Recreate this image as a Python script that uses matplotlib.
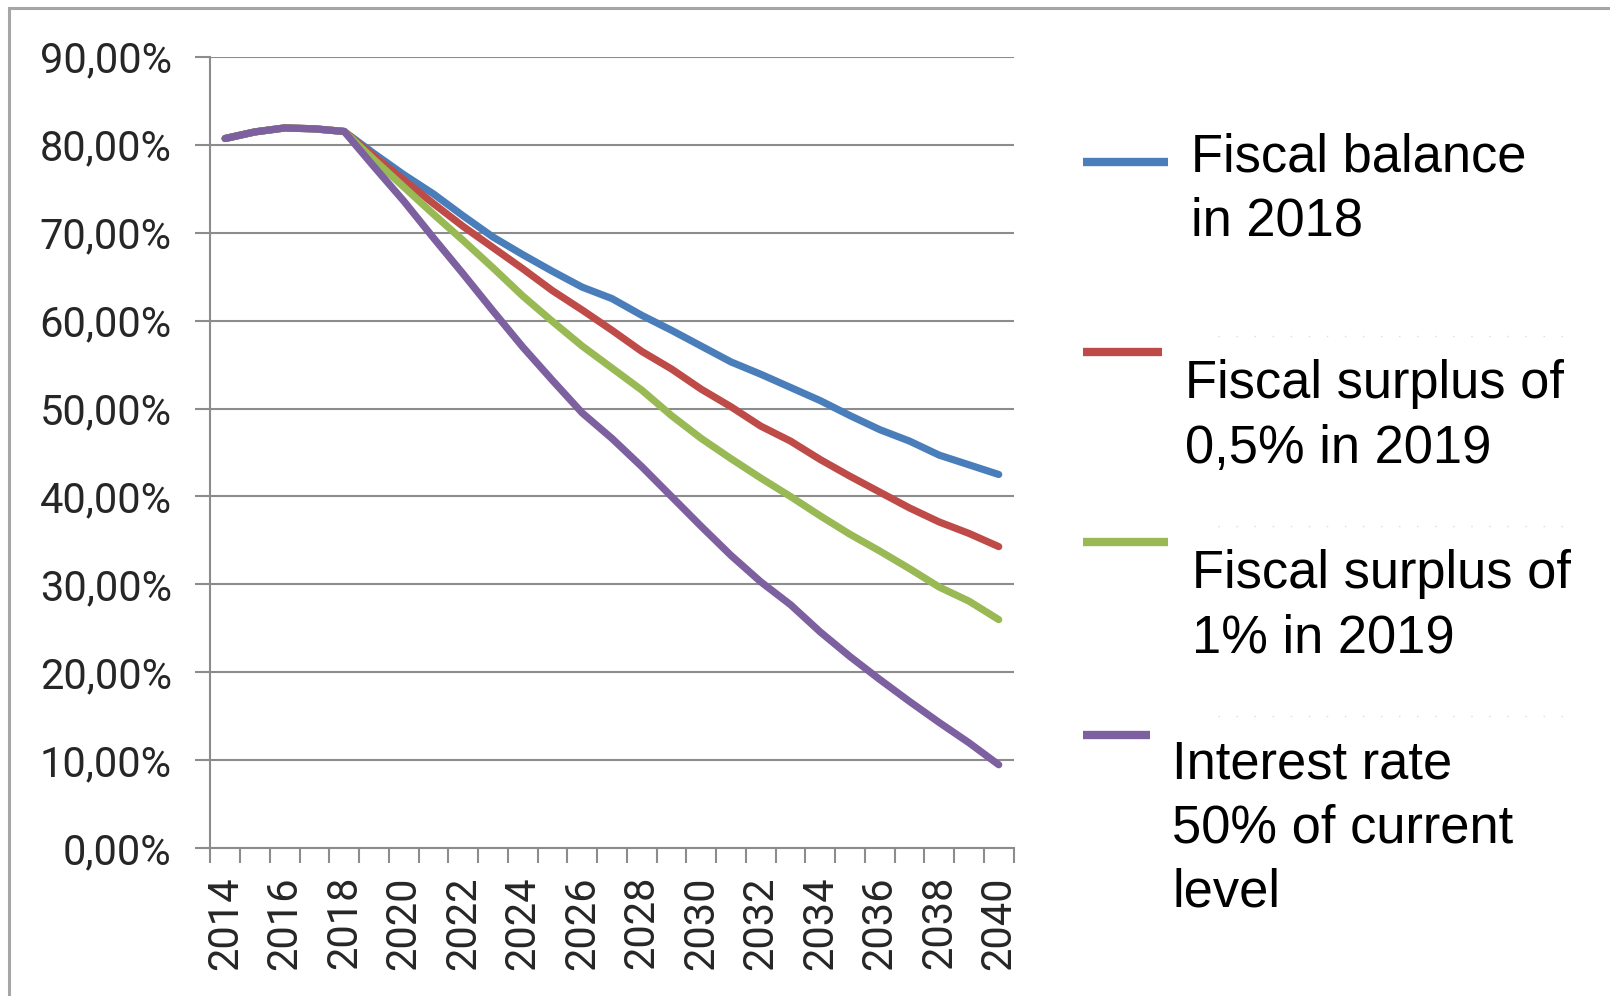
import matplotlib
matplotlib.use("Agg")
import matplotlib.pyplot as plt
from matplotlib.lines import Line2D
from matplotlib.patches import Rectangle
from matplotlib.ticker import FixedLocator, FuncFormatter

# debt-to-GDP paths, 2014-2040
years = list(range(2014, 2041))
common = [0.807, 0.8145, 0.819, 0.818]  # 2014-2017, same for every scenario

fiscal_balance = common + [0.815, 0.790, 0.766, 0.744, 0.719, 0.695, 0.675, 0.656,
                           0.638, 0.625, 0.606, 0.589, 0.571, 0.553, 0.539, 0.524,
                           0.509, 0.492, 0.476, 0.463, 0.447, 0.436, 0.425]
surplus_05 = common + [0.815, 0.787, 0.760, 0.733, 0.707, 0.683, 0.659, 0.634,
                       0.612, 0.589, 0.565, 0.545, 0.522, 0.502, 0.480, 0.463,
                       0.442, 0.423, 0.405, 0.387, 0.371, 0.358, 0.343]
surplus_1 = common + [0.815, 0.783, 0.752, 0.721, 0.691, 0.660, 0.628, 0.599,
                      0.571, 0.546, 0.521, 0.492, 0.466, 0.443, 0.421, 0.400,
                      0.378, 0.357, 0.338, 0.318, 0.297, 0.281, 0.260]
interest_half = common + [0.815, 0.775, 0.736, 0.694, 0.653, 0.611, 0.570, 0.532,
                          0.495, 0.466, 0.434, 0.400, 0.366, 0.333, 0.303, 0.277,
                          0.246, 0.218, 0.192, 0.167, 0.143, 0.120, 0.095]

series = [fiscal_balance, surplus_05, surplus_1, interest_half]
labels = [["Fiscal balance", "in 2018"],
          ["Fiscal surplus of", "0,5% in 2019"],
          ["Fiscal surplus of", "1% in 2019"],
          ["Interest rate", "50% of current", "level"]]
colors = ["#4a7ebb", "#be4b48", "#98b954", "#7d60a0"]
y_ticks = [0.0, 0.1, 0.2, 0.3, 0.4, 0.5, 0.6, 0.7, 0.8, 0.9]

W, H = 1610, 996
fig = plt.figure(figsize=(W / 100, H / 100), dpi=100)
ax = fig.add_axes([210.3 / W, 1 - 848.3 / H, (1013.6 - 210.3) / W, (848.3 - 56.7) / H])

grey = "#8c8c8c"
for vals, c in zip(series, colors):
    ax.plot(years, vals, color=c, lw=5.2, solid_capstyle="round", solid_joinstyle="round", zorder=3)

ax.set_xlim(2013.5, 2040.5)
ax.set_ylim(0, 0.9)
ax.yaxis.set_major_locator(FixedLocator(y_ticks))
ax.yaxis.set_major_formatter(FuncFormatter(lambda v, p: f"{v * 100:.2f}%".replace(".", ",")))
ax.xaxis.set_major_locator(FixedLocator(years[::2]))
ax.xaxis.set_minor_locator(FixedLocator([y - 0.5 for y in years] + [2040.5]))
ax.grid(axis="y", color=grey, lw=1.5, zorder=1)

for side in ["top", "right"]:
    ax.spines[side].set_visible(False)
for side in ["left", "bottom"]:
    ax.spines[side].set_color(grey)
    ax.spines[side].set_linewidth(1.5)

tick_font = dict(family="Roboto", size=30)
ax.tick_params(axis="y", length=10.8, width=1.5, color=grey, pad=17)
ax.tick_params(axis="x", which="major", length=0, pad=20)
ax.tick_params(axis="x", which="minor", length=10.8, width=1.5, color=grey)
for t in ax.get_yticklabels():
    t.set_fontproperties(tick_font)
    t.set_color("#262626")
for t in ax.get_xticklabels():
    t.set_fontproperties(tick_font)
    t.set_rotation(90)
    t.set_color("#262626")

# legend drawn by hand on the right
line_ends = [1168, 1162, 1168, 1150]
line_y = [161.7, 351.7, 542, 735]
text_x = [1190.5, 1184.5, 1191.5, 1172]
baselines = [[171.7, 235], [397.7, 462.7], [588.3, 652.3], [778.3, 842.3, 906]]
for c, xe, ly, tx, bl, lab in zip(colors, line_ends, line_y, text_x, baselines, labels):
    fig.add_artist(Line2D([1083 / W, xe / W], [1 - ly / H, 1 - ly / H],
                          transform=fig.transFigure, color=c, lw=6, solid_capstyle="butt"))
    for b, s in zip(bl, lab):
        fig.text(tx / W, 1 - b / H, s, family="Liberation Sans", size=37.8,
                 ha="left", va="baseline", color="black")

# faint dotted separators between legend entries
for sy in [336, 526, 716]:
    fig.add_artist(Line2D([1218 / W, 1575 / W], [1 - sy / H, 1 - sy / H],
                          transform=fig.transFigure, color="#dcdcdc", lw=1,
                          linestyle=(0, (1, 12))))

# outer frame
fig.add_artist(Rectangle((8.5 / W, -0.1), 2, 1.1 - 8.5 / H, transform=fig.transFigure,
                         fill=False, edgecolor="#a6a6a6", lw=2.2))

fig.savefig("out.png", dpi=100, facecolor="white")
